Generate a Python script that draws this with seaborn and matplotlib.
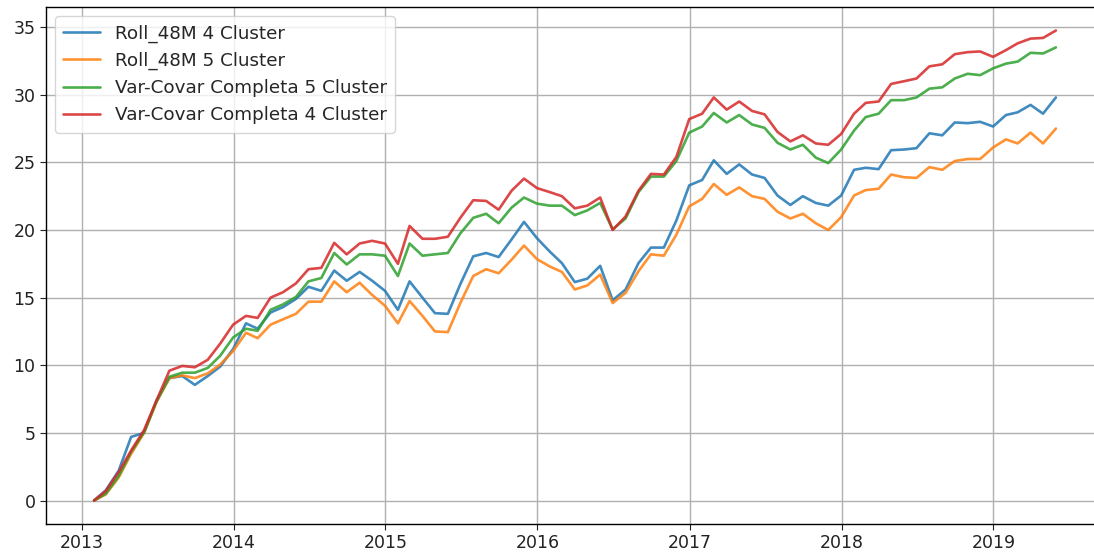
import matplotlib
matplotlib.use("Agg")
import matplotlib.pyplot as plt
import matplotlib.dates as mdates
import pandas as pd
import seaborn as sns

# month-end dates, Jan 2013 .. May 2019
dates = pd.date_range("2013-01-31", "2019-05-31", freq="ME")

roll_4 = [0.0, 0.75, 2.2, 4.7, 5.0, 7.4, 9.05, 9.2, 8.55, 9.2, 9.9, 11.2,
          13.1, 12.7, 13.9, 14.3, 14.9, 15.8, 15.5, 17.0, 16.25, 16.9, 16.25, 15.5,
          14.1, 16.2, 15.0, 13.85, 13.8, 16.0, 18.05, 18.3, 18.0, 19.3, 20.6, 19.4,
          18.4, 17.55, 16.15, 16.4, 17.35, 14.8, 15.6, 17.55, 18.7, 18.7, 20.7, 23.3,
          23.7, 25.15, 24.15, 24.85, 24.1, 23.85, 22.55, 21.85, 22.5, 22.0, 21.8, 22.55,
          24.45, 24.6, 24.5, 25.9, 25.95, 26.05, 27.15, 27.0, 27.95, 27.9, 28.0, 27.65,
          28.5, 28.7, 29.25, 28.6, 29.8]

roll_5 = [0.0, 0.45, 1.7, 3.45, 5.0, 7.3, 9.05, 9.25, 9.05, 9.4, 10.05, 11.05,
          12.4, 12.0, 13.0, 13.4, 13.8, 14.7, 14.7, 16.2, 15.4, 16.1, 15.2, 14.4,
          13.1, 14.75, 13.65, 12.5, 12.45, 14.6, 16.6, 17.1, 16.8, 17.8, 18.85, 17.85,
          17.3, 16.9, 15.6, 15.9, 16.7, 14.6, 15.35, 16.95, 18.2, 18.1, 19.65, 21.75,
          22.3, 23.4, 22.6, 23.15, 22.5, 22.3, 21.35, 20.85, 21.2, 20.5, 20.0, 20.95,
          22.55, 22.95, 23.05, 24.1, 23.9, 23.85, 24.65, 24.45, 25.1, 25.25, 25.25, 26.1,
          26.7, 26.4, 27.2, 26.4, 27.5]

varcov_5 = [0.0, 0.5, 1.8, 3.6, 5.05, 7.3, 9.15, 9.45, 9.45, 9.8, 10.7, 12.05,
            12.7, 12.55, 14.1, 14.5, 15.05, 16.2, 16.45, 18.3, 17.45, 18.2, 18.2, 18.1,
            16.6, 19.0, 18.1, 18.2, 18.3, 19.75, 20.9, 21.2, 20.5, 21.65, 22.4, 21.95,
            21.8, 21.8, 21.1, 21.45, 22.0, 20.05, 20.85, 22.8, 23.95, 23.95, 25.1, 27.2,
            27.65, 28.65, 27.95, 28.5, 27.8, 27.55, 26.45, 25.95, 26.3, 25.35, 24.95, 25.95,
            27.35, 28.35, 28.6, 29.6, 29.6, 29.8, 30.45, 30.55, 31.2, 31.55, 31.45, 31.95,
            32.3, 32.45, 33.1, 33.05, 33.5]

varcov_4 = [0.0, 0.7, 2.1, 3.7, 5.2, 7.4, 9.6, 9.95, 9.85, 10.4, 11.6, 13.0,
            13.65, 13.5, 15.0, 15.4, 16.05, 17.1, 17.2, 19.05, 18.2, 19.0, 19.2, 19.0,
            17.5, 20.3, 19.35, 19.35, 19.5, 20.9, 22.2, 22.15, 21.5, 22.9, 23.8, 23.1,
            22.8, 22.5, 21.6, 21.8, 22.4, 20.0, 21.0, 22.9, 24.15, 24.1, 25.4, 28.2,
            28.6, 29.8, 28.9, 29.5, 28.8, 28.55, 27.25, 26.55, 27.0, 26.4, 26.3, 27.1,
            28.6, 29.4, 29.5, 30.8, 31.0, 31.2, 32.1, 32.25, 33.0, 33.15, 33.2, 32.8,
            33.3, 33.8, 34.15, 34.2, 34.75]

series_names = ["Roll_48M 4 Cluster", "Roll_48M 5 Cluster",
                "Var-Covar Completa 5 Cluster", "Var-Covar Completa 4 Cluster"]

wide = pd.DataFrame(dict(zip(series_names, [roll_4, roll_5, varcov_5, varcov_4])), index=dates)
long = wide.reset_index(names="date").melt(id_vars="date", var_name="serie", value_name="valore")

sns.set_style("ticks")
plt.rcParams["font.family"] = ["DejaVu Sans"]

fig = plt.figure(figsize=(10.94, 5.57), dpi=100)
# axes runs a bit past the right edge, as in the cropped original
ax = fig.add_axes([46 / 1094, 33 / 557, 1058 / 1094, 517 / 557])

sns.lineplot(data=long, x="date", y="valore", hue="serie", hue_order=series_names,
             palette=["tab:blue", "tab:orange", "tab:green", "tab:red"],
             linewidth=1.9, alpha=0.85, ax=ax)

ax.xaxis.set_major_locator(mdates.YearLocator())
ax.xaxis.set_major_formatter(mdates.DateFormatter("%Y"))
ax.set_yticks(range(0, 36, 5))
ax.set_xlabel("")
ax.set_ylabel("")
ax.grid(True, color="#b0b0b0", linewidth=1.0)
ax.tick_params(labelsize=12.5, colors="#222222", length=4)
for s in ax.spines.values():
    s.set_color("black")
    s.set_linewidth(1.0)

ax.legend(loc="upper left", fontsize=13.2, frameon=True, framealpha=0.8,
          edgecolor="#cccccc", borderpad=0.45, handlelength=2.0)

fig.savefig("out.png", dpi=100)
